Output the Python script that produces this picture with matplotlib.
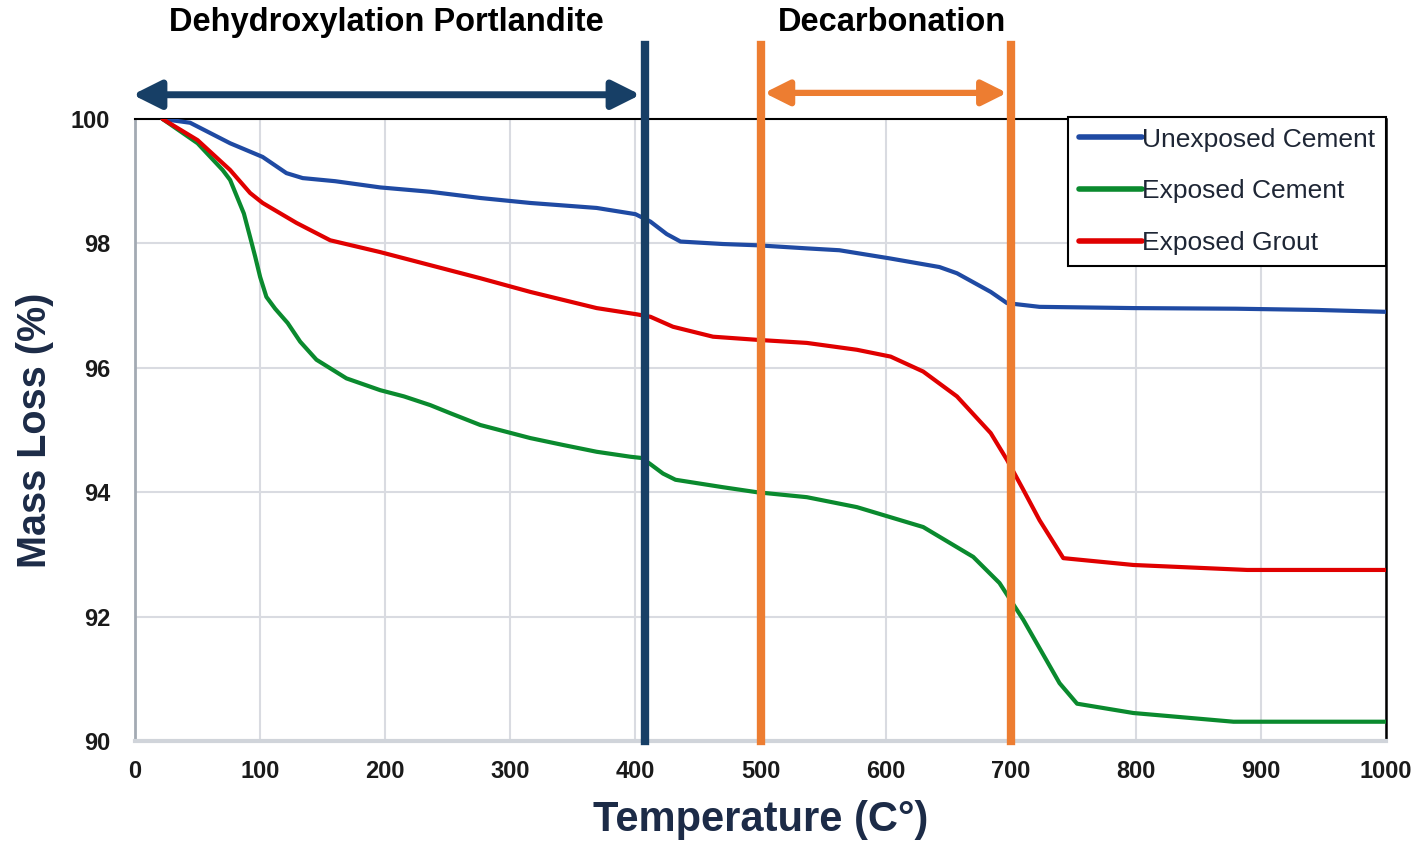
import matplotlib
matplotlib.use("Agg")
import matplotlib.pyplot as plt

##################
# Data
##################
t_unexposed = [22, 44, 76, 102, 121, 134, 160, 196, 236, 276, 316, 369, 400, 412, 425,
               436, 470, 497, 537, 563, 603, 643, 657, 684, 697, 723, 798, 880, 945, 1000]
m_unexposed = [100, 99.94, 99.61, 99.39, 99.13, 99.05, 99.0, 98.9, 98.83, 98.73, 98.65,
               98.57, 98.47, 98.35, 98.15, 98.03, 97.99, 97.97, 97.92, 97.89, 97.76,
               97.62, 97.52, 97.22, 97.04, 96.98, 96.96, 96.95, 96.93, 96.9]

t_exposed = [22, 50, 70, 76, 87, 92, 96, 100, 105, 112, 122, 132, 145, 169, 196, 215,
             236, 252, 276, 316, 342, 369, 396, 405, 412, 422, 432, 470, 497, 537, 577,
             630, 670, 691, 710, 739, 753, 798, 878, 1000]
m_exposed = [100, 99.61, 99.18, 99.02, 98.48, 98.1, 97.79, 97.46, 97.14, 96.95, 96.72,
             96.42, 96.13, 95.83, 95.64, 95.54, 95.4, 95.27, 95.08, 94.87, 94.76, 94.65,
             94.57, 94.55, 94.45, 94.3, 94.2, 94.08, 94.0, 93.92, 93.76, 93.44, 92.96,
             92.54, 91.95, 90.93, 90.6, 90.45, 90.31, 90.31]

t_grout = [22, 50, 76, 92, 102, 129, 156, 196, 236, 276, 316, 369, 401, 412, 430, 462,
           497, 537, 577, 604, 630, 657, 684, 697, 710, 723, 742, 798, 889, 1000]
m_grout = [100, 99.66, 99.18, 98.81, 98.65, 98.33, 98.05, 97.86, 97.65, 97.44, 97.22,
           96.96, 96.86, 96.82, 96.66, 96.5, 96.45, 96.4, 96.29, 96.18, 95.94, 95.54,
           94.95, 94.52, 94.04, 93.55, 92.94, 92.83, 92.75, 92.75]

series_labels = ["Unexposed Cement", "Exposed Cement", "Exposed Grout"]

# temperature ranges of the two reactions
dehydrox_range = (-2, 408)
decarb_range = (500, 700)

x_ticks = list(range(0, 1001, 100))
y_ticks = list(range(90, 101, 2))

##################
# Styles
##################
BLUE = "#1f4aa3"
GREEN = "#0a8a2e"
RED = "#e00000"
NAVY = "#173f66"
ORANGE = "#ed7d31"
LABEL_COLOR = "#1c2b47"
GRID = "#d9dbe1"

plt.rcParams["font.family"] = ["Liberation Sans", "DejaVu Sans"]

fig = plt.figure(figsize=(14.2, 8.41), dpi=100)
ax = fig.add_axes([0.0951, 0.1189, 0.8810, 0.7396])

for t, m, c, lab in zip([t_unexposed, t_exposed, t_grout],
                        [m_unexposed, m_exposed, m_grout],
                        [BLUE, GREEN, RED], series_labels):
    ax.plot(t, m, color=c, lw=3, label=lab, solid_joinstyle="round",
            solid_capstyle="round", zorder=3)

ax.set_xlim(0, 1000)
ax.set_ylim(90, 100)
ax.set_xticks(x_ticks)
ax.set_yticks(y_ticks)
ax.tick_params(length=0, labelsize=17, colors="#1a1a1a")
ax.tick_params(axis="x", pad=14)
ax.tick_params(axis="y", pad=18)
for lbl in ax.get_xticklabels() + ax.get_yticklabels():
    lbl.set_fontweight("bold")

ax.grid(True, color=GRID, lw=1.5, zorder=0)
ax.set_axisbelow(True)

ax.spines["top"].set_color("black")
ax.spines["top"].set_linewidth(1.5)
ax.spines["right"].set_color("black")
ax.spines["right"].set_linewidth(1.8)
ax.spines["left"].set_color("#a3aab3")
ax.spines["left"].set_linewidth(2)
ax.spines["bottom"].set_color("#d0d4da")
ax.spines["bottom"].set_linewidth(3)

ax.set_xlabel("Temperature (C°)", fontsize=30, fontweight="bold", color=LABEL_COLOR,
              labelpad=12)
ax.set_ylabel("Mass Loss (%)", fontsize=28.5, fontweight="bold", color=LABEL_COLOR,
              labelpad=12)

# region markers above the plot
top = 1.119
ax.axvline(dehydrox_range[1], ymin=0, ymax=top, color=NAVY, lw=6, clip_on=False, zorder=4)
for xv in decarb_range:
    ax.axvline(xv, ymin=0, ymax=top, color=ORANGE, lw=6, clip_on=False, zorder=4)

ax.annotate("", xy=(dehydrox_range[1] - 4, 100.39), xytext=(dehydrox_range[0], 100.39),
            arrowprops=dict(arrowstyle="<|-|>,head_length=1.7,head_width=0.85",
                            lw=5, color=NAVY, shrinkA=0, shrinkB=0),
            annotation_clip=False)
ax.annotate("", xy=(decarb_range[1] - 3, 100.42), xytext=(decarb_range[0] + 3, 100.42),
            arrowprops=dict(arrowstyle="<|-|>,head_length=1.5,head_width=0.75",
                            lw=4.5, color=ORANGE, shrinkA=0, shrinkB=0),
            annotation_clip=False)

ax.text(201, 101.55, "Dehydroxylation Portlandite", ha="center", va="center",
        fontsize=23.5, fontweight="bold", color="black")
ax.text(605, 101.55, "Decarbonation", ha="center", va="center",
        fontsize=23.5, fontweight="bold", color="black")

leg = ax.legend(loc="upper right", bbox_to_anchor=(1.0, 1.003), borderaxespad=0,
                fontsize=19, handlelength=2.4, handletextpad=0.0, labelspacing=1.05,
                fancybox=False, framealpha=1, borderpad=0.4)
leg.get_frame().set_edgecolor("black")
leg.get_frame().set_linewidth(1.5)
for txt in leg.get_texts():
    txt.set_color("#1e2635")
for line in leg.get_lines():
    line.set_linewidth(4)

fig.savefig("out.png", dpi=100)
